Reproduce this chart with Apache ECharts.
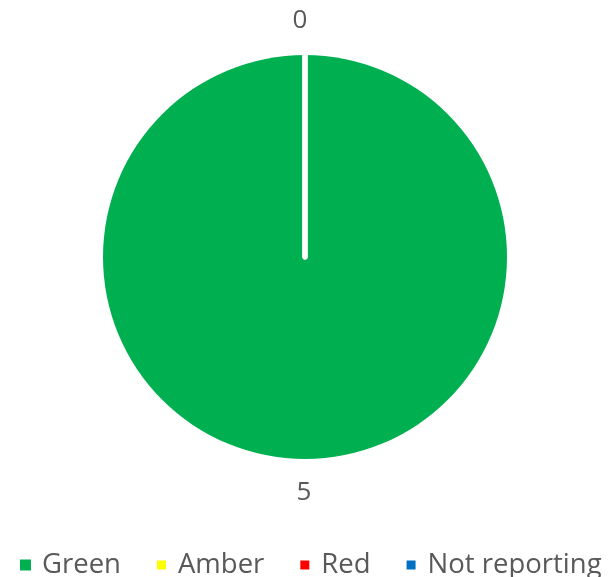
<!DOCTYPE html>
<html>
<head>
<meta charset="utf-8">
<script src="https://cdn.jsdelivr.net/npm/echarts@6/dist/echarts.min.js"></script>
<style>html,body{margin:0;padding:0;background:#fff;}#c{width:611px;height:577px;}</style>
</head>
<body>
<div id="c"></div>
<script>
var categories = ["Green", "Amber", "Red", "Not reporting"];
var values = [5, 0, 0, 0];
var colors = ["#00B050", "#FFFF00", "#FF0000", "#0070C0"];
var showLabel = [true, true, false, false];

var chart = echarts.init(document.getElementById('c'), null, {renderer: 'canvas'});
var data = categories.map(function (name, i) {
  return {
    name: name,
    value: values[i],
    itemStyle: {
      color: colors[i],
      borderColor: '#ffffff',
      borderWidth: values[i] === 0 ? 5 : 0
    },
    label: {show: showLabel[i]}
  };
});
chart.setOption({
  animation: false,
  backgroundColor: '#ffffff',
  legend: {
    data: categories,
    left: 15,
    top: 546,
    width: 640,
    itemWidth: 11,
    itemHeight: 11,
    itemGap: 34,
    icon: 'rect',
    textStyle: {color: '#595959', fontSize: 27.5, fontFamily: 'Open Sans', padding: [0, 0, 0, 6]}
  },
  series: [{
    type: 'pie',
    center: [305, 257],
    radius: 202,
    startAngle: 90,
    clockwise: true,
    avoidLabelOverlap: false,
    data: data,
    label: {
      position: 'outside',
      formatter: '{c}',
      color: '#595959',
      fontSize: 26,
      fontFamily: 'Open Sans'
    },
    labelLine: {show: false, length: 34, length2: 0},
    labelLayout: function (p) {
      return {align: 'center', dx: p.dataIndex === 0 ? -6 : 0};
    },
    emphasis: {disabled: true}
  }]
});
</script>
</body>
</html>
